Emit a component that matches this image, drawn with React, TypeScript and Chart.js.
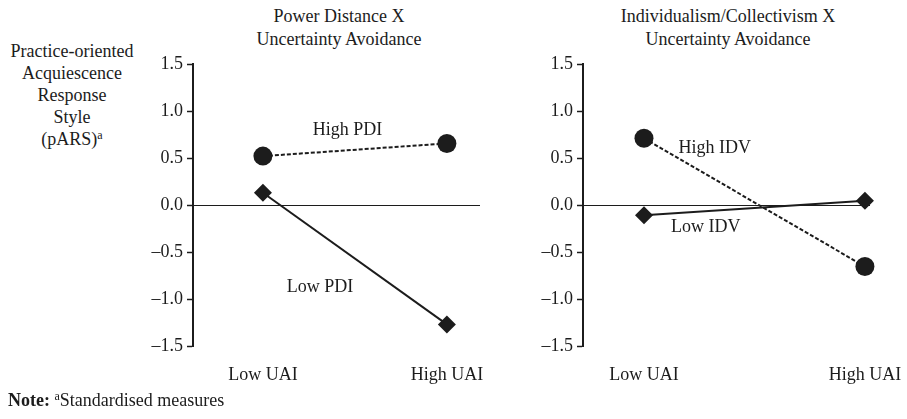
import React, { useEffect, useRef } from "react";
import { Chart, registerables } from "chart.js";

Chart.register(...registerables);

// ---- data ----
const categories = ["Low UAI", "High UAI"];
const yTicks = [-1.5, -1.0, -0.5, 0.0, 0.5, 1.0, 1.5];

const leftTitle = ["Power Distance X", "Uncertainty Avoidance"];
const highPDI = [0.52, 0.655];
const lowPDI = [0.13, -1.27];
const leftLabels = [
  { text: "High PDI", x: 0.46, y: 0.8 },
  { text: "Low PDI", x: 0.31, y: -0.875 },
];

const rightTitle = ["Individualism/Collectivism X", "Uncertainty Avoidance"];
const highIDV = [0.71, -0.655];
const lowIDV = [-0.11, 0.045];
const rightLabels = [
  { text: "High IDV", x: 0.32, y: 0.6 },
  { text: "Low IDV", x: 0.28, y: -0.24 },
];

const yAxisTitle = ["Practice-oriented", "Acquiescence", "Response", "Style"];

const FONT = '"Liberation Serif", "Times New Roman", serif';
const INK = "#1c1c1c";

function fmt(v: number) {
  const s = Math.abs(v).toFixed(1);
  return v < -1e-9 ? "\u2013" + s : s;
}

const labelPlugin = {
  id: "inlineLabels",
  afterDatasetsDraw(chart: any, _args: any, opts: any) {
    const { ctx, scales } = chart;
    const items = opts.items || [];
    ctx.save();
    ctx.font = `18px ${FONT}`;
    ctx.fillStyle = INK;
    ctx.textAlign = "center";
    ctx.textBaseline = "middle";
    for (const it of items) {
      ctx.fillText(it.text, scales.x.getPixelForValue(it.x), scales.y.getPixelForValue(it.y));
    }
    ctx.restore();
  },
};

type PanelProps = {
  high: number[];
  low: number[];
  labels: { text: string; x: number; y: number }[];
  xMin: number;
  xMax: number;
  left: number;
};

const CANVAS_W = 390;
const PAD_RIGHT = 43;

function Panel({ high, low, labels, xMin, xMax, left }: PanelProps) {
  const ref = useRef<HTMLCanvasElement>(null);
  useEffect(() => {
    if (!ref.current) return;
    const toPts = (arr: number[]) => arr.map((v, i) => ({ x: i, y: v }));
    const chart = new Chart(ref.current, {
      type: "line",
      data: {
        datasets: [
          {
            data: toPts(high),
            borderColor: INK,
            backgroundColor: INK,
            borderWidth: 2,
            borderDash: [4, 2],
            pointStyle: "circle",
            pointRadius: 9.5,
            pointBorderWidth: 0,
            clip: false,
          } as any,
          {
            data: toPts(low),
            borderColor: INK,
            backgroundColor: INK,
            borderWidth: 2,
            pointStyle: "rectRot",
            pointRadius: 9,
            pointBorderWidth: 0,
            clip: false,
          } as any,
        ],
      },
      options: {
        responsive: false,
        animation: false,
        layout: { padding: { top: 64, right: PAD_RIGHT, bottom: 0, left: 0 } },
        plugins: {
          legend: { display: false },
          tooltip: { enabled: false },
          inlineLabels: { items: labels },
        } as any,
        scales: {
          x: {
            type: "linear",
            min: xMin,
            max: xMax,
            afterBuildTicks: (s: any) => {
              s.ticks = categories.map((_, i) => ({ value: i }));
            },
            afterFit: (s: any) => {
              s.height = 73;
              s.paddingLeft = 0;
              s.paddingRight = 0;
            },
            ticks: {
              callback: (v: any) => categories[v] ?? "",
              font: { family: FONT, size: 18 },
              color: INK,
              padding: 18,
              maxRotation: 0,
              autoSkip: false,
            },
            grid: { display: false, drawTicks: false },
            border: { display: false },
          },
          y: {
            type: "linear",
            min: yTicks[0],
            max: yTicks[yTicks.length - 1],
            afterBuildTicks: (s: any) => {
              s.ticks = yTicks.map((v) => ({ value: v }));
            },
            afterFit: (s: any) => {
              s.width = 60;
              s.paddingTop = 0;
              s.paddingBottom = 0;
            },
            ticks: {
              callback: (v: any) => fmt(Number(v)),
              font: { family: FONT, size: 18 },
              color: INK,
              padding: 4,
            },
            grid: {
              color: (c: any) => (c.tick && Math.abs(c.tick.value) < 1e-9 ? INK : "rgba(0,0,0,0)"),
              lineWidth: 1,
              tickColor: INK,
              tickLength: 6,
              tickWidth: 1.5,
            },
            border: { display: true, color: INK, width: 2 },
          },
        },
      },
      plugins: [labelPlugin],
    });
    return () => chart.destroy();
  }, []);
  return (
    <canvas
      ref={ref}
      width={CANVAS_W}
      height={419}
      style={{ position: "absolute", left, top: 0, width: CANVAS_W, height: 419 }}
    />
  );
}

function Title({ lines, cx }: { lines: string[]; cx: number }) {
  return (
    <div
      style={{
        position: "absolute",
        left: cx - 200,
        width: 400,
        top: 5,
        textAlign: "center",
        fontFamily: FONT,
        fontSize: 18,
        lineHeight: "23px",
        color: INK,
      }}
    >
      {lines.map((l, i) => (
        <div key={i}>{l}</div>
      ))}
    </div>
  );
}

export default function App() {
  return (
    <div
      style={{
        position: "absolute",
        left: 0,
        top: 0,
        width: 907,
        height: 419,
        background: "#fff",
        overflow: "hidden",
      }}
    >
      <Title lines={leftTitle} cx={339} />
      <Title lines={rightTitle} cx={728} />
      <div
        style={{
          position: "absolute",
          left: 0,
          width: 144,
          top: 40,
          textAlign: "center",
          fontFamily: FONT,
          fontSize: 18,
          lineHeight: "22px",
          color: INK,
        }}
      >
        {yAxisTitle.map((l, i) => (
          <div key={i}>{l}</div>
        ))}
        <div>
          (pARS)
          <span style={{ fontSize: 12, verticalAlign: "top", lineHeight: "14px" }}>a</span>
        </div>
      </div>
      <Panel high={highPDI} low={lowPDI} labels={leftLabels} xMin={-0.38} xMax={1.18} left={133} />
      <Panel high={highIDV} low={lowIDV} labels={rightLabels} xMin={-0.276} xMax={1.023} left={523} />
      <div
        style={{
          position: "absolute",
          left: 8,
          top: 389,
          fontFamily: FONT,
          fontSize: 18,
          lineHeight: "22px",
          color: INK,
          whiteSpace: "nowrap",
        }}
      >
        <b>Note:</b>{" "}
        <span style={{ fontSize: 12, verticalAlign: "top", lineHeight: "14px" }}>a</span>
        Standardised measures
      </div>
    </div>
  );
}
